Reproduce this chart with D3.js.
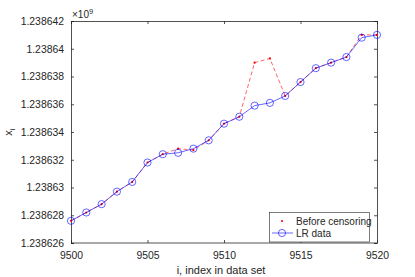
<!DOCTYPE html>
<html><head><meta charset="utf-8">
<script src="https://cdn.jsdelivr.net/npm/d3@7"></script>
<style>body{margin:0;background:#fff}svg{display:block}text{font-family:"Liberation Sans",Arial,sans-serif;fill:#262626}</style>
</head><body><svg id="c" width="415" height="277"></svg>
<script>
const indices = d3.range(9500, 9521);
const lrData = [1.2386276,1.2386282,1.2386288,1.2386297,1.2386304,1.2386318,1.2386324,1.2386325,1.2386328,1.2386334,1.2386346,1.2386351,1.2386359,1.2386361,1.2386366,1.2386376,1.2386386,1.238639,1.2386394,1.2386408,1.238641];
const beforeCensoring = [1.2386276,1.2386282,1.2386288,1.2386297,1.2386304,1.2386318,1.2386324,1.2386328,1.2386327,1.2386334,1.2386346,1.2386351,1.238639,1.2386393,1.2386366,1.2386376,1.2386386,1.238639,1.2386394,1.238641,1.238641];
const xTicks = [9500,9505,9510,9515,9520];
const yTicks = [1.238626,1.238628,1.23863,1.238632,1.238634,1.238636,1.238638,1.23864,1.238642];
const yTickLabels = ["1.238626","1.238628","1.23863","1.238632","1.238634","1.238636","1.238638","1.23864","1.238642"];
const legendLabels = ["Before censoring","LR data"];

const svg = d3.select("#c");
const L=71, R=377, T=21, B=243;
const x = d3.scaleLinear().domain([9500,9520]).range([L,R]);
const y = d3.scaleLinear().domain([1.238626,1.238642]).range([B,T]);
const fs = "10.4px";
const ax = "#262626";

// axes with inward ticks
const tl = 3;
const gB = svg.append("g").attr("transform",`translate(0,${B})`)
  .call(d3.axisBottom(x).tickValues(xTicks).tickSize(-tl).tickPadding(6+tl).tickFormat(d3.format("d")));
const gT = svg.append("g").attr("transform",`translate(0,${T})`)
  .call(d3.axisTop(x).tickValues(xTicks).tickSize(-tl).tickFormat(""));
const gL = svg.append("g").attr("transform",`translate(${L},0)`)
  .call(d3.axisLeft(y).tickValues(yTicks).tickSize(-tl).tickPadding(4+tl).tickFormat((d,i)=>yTickLabels[i]));
const gR = svg.append("g").attr("transform",`translate(${R},0)`)
  .call(d3.axisRight(y).tickValues(yTicks).tickSize(-tl).tickFormat(""));
[gB,gT,gL,gR].forEach(g=>{
  g.select(".domain").attr("stroke",ax).attr("stroke-width",0.8);
  g.selectAll(".tick line").attr("stroke",ax).attr("stroke-width",0.8);
  g.selectAll(".tick text").attr("font-size",fs).attr("fill",ax).attr("font-family",'"Liberation Sans",Arial,sans-serif');
});
gB.selectAll(".domain").attr("d",`M${L},0H${R}`);

// data
const red = indices.map((d,i)=>({x:d,y:beforeCensoring[i]}));
const blue = indices.map((d,i)=>({x:d,y:lrData[i]}));
const line = d3.line().x(d=>x(d.x)).y(d=>y(d.y));
svg.append("path").datum(red).attr("d",line).attr("fill","none")
  .attr("stroke","#ff0000").attr("stroke-width",0.6).attr("stroke-dasharray","4,2.5");
svg.selectAll(".rd").data(red).join("circle").attr("cx",d=>x(d.x)).attr("cy",d=>y(d.y)).attr("r",1.1).attr("fill","#ff0000");
svg.append("path").datum(blue).attr("d",line).attr("fill","none")
  .attr("stroke","#0000ff").attr("stroke-width",0.6);
svg.selectAll(".bc").data(blue).join("circle").attr("cx",d=>x(d.x)).attr("cy",d=>y(d.y)).attr("r",3.6)
  .attr("fill","none").attr("stroke","#0000ff").attr("stroke-width",0.6);

// exponent
const ex = svg.append("text").attr("x",72).attr("y",18).attr("font-size","10px");
ex.append("tspan").text("×10");
ex.append("tspan").attr("font-size","7.5px").attr("dy",-4).text("9");

// labels
svg.append("text").attr("x",(L+R)/2-3).attr("y",274).attr("text-anchor","middle").attr("font-size","11px").text("i, index in data set");
const yl = svg.append("text").attr("transform",`translate(12,${(T+B)/2}) rotate(-90)`).attr("text-anchor","middle").attr("font-size","11px");
yl.append("tspan").text("x");
yl.append("tspan").attr("font-size","8px").attr("dy",3).text("i");

// legend
const lg = svg.append("g");
lg.append("rect").attr("x",269.5).attr("y",212.5).attr("width",100).attr("height",29.5).attr("fill","#fff").attr("stroke",ax).attr("stroke-width",0.6);
lg.append("circle").attr("cx",282).attr("cy",221).attr("r",1.1).attr("fill","#ff0000");
lg.append("line").attr("x1",272).attr("x2",293).attr("y1",233).attr("y2",233).attr("stroke","#0000ff").attr("stroke-width",0.6);
lg.append("circle").attr("cx",282).attr("cy",233).attr("r",3.6).attr("fill","none").attr("stroke","#0000ff").attr("stroke-width",0.6);
lg.selectAll(".lt").data(legendLabels).join("text").attr("x",296).attr("y",(d,i)=>224.7+i*12).attr("font-size","10px").text(d=>d);
</script></body></html>
